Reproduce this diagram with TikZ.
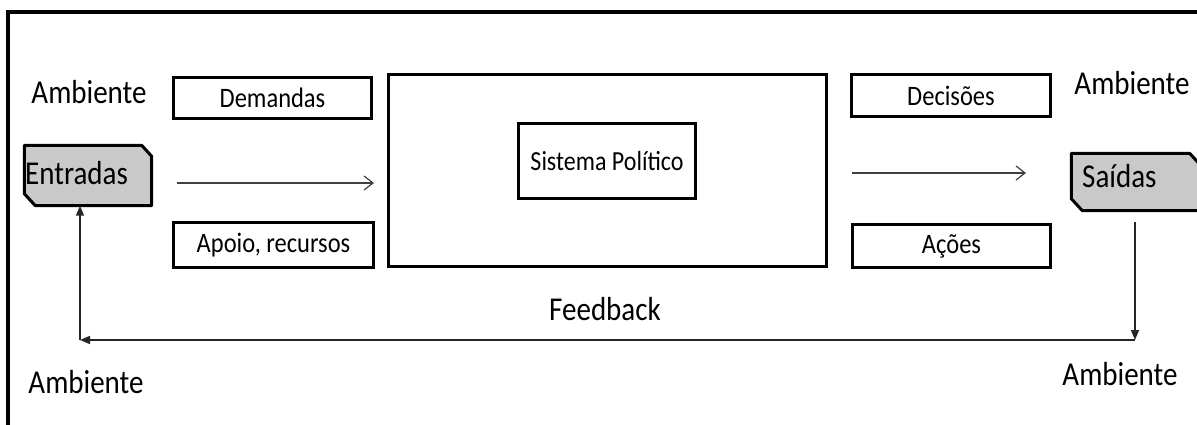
\documentclass[tikz,border=0pt]{standalone}
\usepackage{fontspec}
\setmainfont{Carlito}
\usetikzlibrary{arrows.meta,calc}
\newcommand\vstretch[1]{\scalebox{1}[1.15]{#1}}
\begin{document}
\begin{tikzpicture}[x=1pt,y=-1pt,
  lbl/.style={inner sep=0pt,font=\fontsize{29}{32}\selectfont},
  boxtxt/.style={draw,line width=3pt,inner sep=0pt,font=\fontsize{24.5}{27}\selectfont},
  chshape/.style={draw,line width=3pt,fill=black!21,line join=round},
  inarrow/.style={draw=black!75,line width=1.2pt,-{Straight Barb[length=9pt,width=14pt,line width=1.2pt]}},
  fbline/.style={draw=black!85,line width=1.5pt},
  fbarrow/.style={-{Triangle[length=10pt,width=8pt]}}]
\useasboundingbox (0,0) rectangle (1197,425);
\clip (0,0) rectangle (1197,425);
\fill[white] (0,0) rectangle (1197,425);
% outer frame
\draw[line width=3.2pt] (8,430) -- (8,12) -- (1205,12);
% texts
\node[lbl] (ambTL) at (89,92) {\vstretch{Ambiente}};
\node[lbl] (ambTR) at (1132,83) {\vstretch{Ambiente}};
\node[lbl] (ambBL) at (86,382) {\vstretch{Ambiente}};
\node[lbl] (ambBR) at (1120,374) {\vstretch{Ambiente}};
\node[lbl] (feedback) at (605,309) {\vstretch{Feedback}};
% boxes
\node[boxtxt,minimum width=198pt,minimum height=41pt] (demandas) at (272.5,98) {\vstretch{Demandas}};
\node[boxtxt,minimum width=200pt,minimum height=45pt] (apoio) at (273.5,245) {\vstretch{Apoio, recursos}};
\node[draw,line width=3pt,minimum width=438pt,minimum height=192pt] (sistema) at (607.5,170.5) {};
\node[boxtxt,minimum width=177pt,minimum height=75pt,font=\fontsize{24}{27}\selectfont] (politico) at (607,161) {\vstretch{Sistema Político}};
\node[boxtxt,minimum width=199pt,minimum height=42pt] (decisoes) at (951,95.5) {\vstretch{Decisões}};
\node[boxtxt,minimum width=198pt,minimum height=43pt] (acoes) at (951.5,246) {\vstretch{Ações}};
% chamfered boxes
\node[minimum width=127pt,minimum height=60pt,inner sep=0pt] (entradas) at (88,175.5) {};
\draw[chshape] (entradas.north west) -- ([xshift=-10pt]entradas.north east)
  -- ([yshift=-11pt]entradas.north east) -- (entradas.south east)
  -- ([xshift=11pt]entradas.south west) -- ([yshift=12pt]entradas.south west) -- cycle;
\node[lbl,anchor=west] (entradasT) at (25,173) {\vstretch{Entradas}};
\node[minimum width=128pt,minimum height=57pt,inner sep=0pt] (saidas) at (1135.5,182) {};
\draw[chshape] (saidas.north west) -- ([xshift=-10pt]saidas.north east)
  -- ([yshift=-11pt]saidas.north east) -- (saidas.south east)
  -- ([xshift=11pt]saidas.south west) -- ([yshift=12pt]saidas.south west) -- cycle;
\node[lbl,anchor=west] (saidasT) at (1082,176) {\vstretch{Saídas}};
% flow arrows
\coordinate (inA) at (177,183);
\coordinate (inB) at (374,183);
\coordinate (outA) at (852,173);
\coordinate (outB) at (1026,173);
\draw[inarrow] (inA) -- (inB);
\draw[inarrow] (outA) -- (outB);
% feedback loop
\coordinate (fbR) at (1135,340);
\coordinate (fbL) at (80,340);
\draw[fbline,fbarrow] ([yshift=-11pt]saidas.south -| fbR) -- (fbR);
\draw[fbline,fbarrow] (fbR) -- (fbL);
\draw[fbline,fbarrow] (fbL) -- (fbL |- entradas.south);
\end{tikzpicture}
\end{document}
